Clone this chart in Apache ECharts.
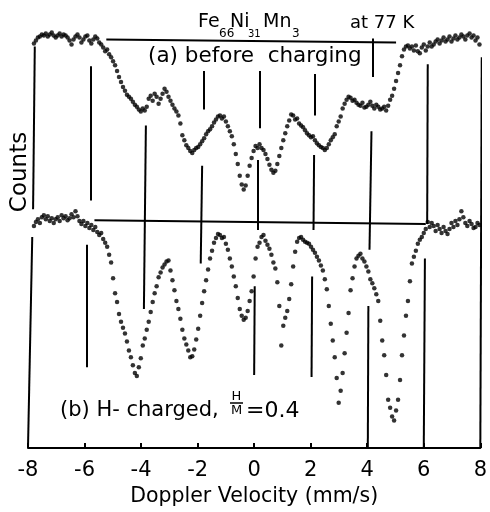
<!DOCTYPE html>
<html>
<head>
<meta charset="utf-8">
<script src="https://cdn.jsdelivr.net/npm/echarts@6/dist/echarts.min.js"></script>
<style>
  html, body { margin: 0; padding: 0; background: #fff; }
  #chart { width: 490px; height: 512px; }
</style>
</head>
<body>
<div id="chart"></div>
<script>
// Doppler velocity of each channel (mm/s)
var velocity = [
  -7.79,-7.72,-7.65,-7.58,-7.51,-7.44,-7.37,-7.30,-7.23,-7.16,
  -7.09,-7.02,-6.95,-6.88,-6.81,-6.74,-6.67,-6.60,-6.53,-6.46,
  -6.39,-6.32,-6.25,-6.18,-6.11,-6.04,-5.97,-5.90,-5.83,-5.76,
  -5.69,-5.62,-5.55,-5.48,-5.41,-5.34,-5.27,-5.20,-5.13,-5.06,
  -4.99,-4.92,-4.85,-4.78,-4.71,-4.64,-4.57,-4.50,-4.43,-4.36,
  -4.29,-4.22,-4.15,-4.08,-4.01,-3.94,-3.87,-3.80,-3.73,-3.66,
  -3.59,-3.52,-3.45,-3.38,-3.31,-3.24,-3.17,-3.10,-3.03,-2.96,
  -2.89,-2.82,-2.75,-2.68,-2.61,-2.54,-2.47,-2.40,-2.33,-2.26,
  -2.19,-2.12,-2.05,-1.98,-1.91,-1.84,-1.77,-1.70,-1.63,-1.56,
  -1.49,-1.42,-1.35,-1.28,-1.21,-1.14,-1.07,-1.00,-0.93,-0.86,
  -0.79,-0.72,-0.65,-0.58,-0.51,-0.44,-0.37,-0.30,-0.23,-0.16,
  -0.09,-0.02,0.05,0.12,0.19,0.26,0.33,0.40,0.47,0.54,
  0.61,0.68,0.75,0.82,0.89,0.96,1.03,1.10,1.17,1.24,
  1.31,1.38,1.45,1.52,1.59,1.66,1.73,1.80,1.87,1.94,
  2.01,2.08,2.15,2.22,2.29,2.36,2.43,2.50,2.57,2.64,
  2.71,2.78,2.85,2.92,2.99,3.06,3.13,3.20,3.27,3.34,
  3.41,3.48,3.55,3.62,3.69,3.76,3.83,3.90,3.97,4.04,
  4.11,4.18,4.25,4.32,4.39,4.46,4.53,4.60,4.67,4.74,
  4.81,4.88,4.95,5.02,5.09,5.16,5.23,5.30,5.37,5.44,
  5.51,5.58,5.65,5.72,5.79,5.86,5.93,6.00,6.07,6.14,
  6.21,6.28,6.35,6.42,6.49,6.56,6.63,6.70,6.77,6.84,
  6.91,6.98,7.05,7.12,7.19,7.26,7.33,7.40,7.47,7.54,
  7.62,7.69,7.76,7.83,7.90,7.97
];

// (a) before charging (counts, arbitrary offset)
var countsBefore = [
  410,413,416,417,419,418,420,417,419,421,
  418,416,418,420,417,419,418,416,413,409,
  414,417,419,416,411,414,417,418,413,410,
  414,417,415,411,409,406,402,404,399,396,
  392,388,382,376,371,366,362,358,356,354,
  351,348,346,343,341,344,342,346,354,357,
  352,359,356,349,354,359,364,361,356,352,
  348,344,341,337,329,317,312,307,304,301,
  299,302,304,305,308,311,314,318,321,323,
  326,330,333,336,337,334,336,331,326,321,
  316,308,298,288,276,267,262,266,276,286,
  294,301,306,304,308,304,302,298,293,287,
  282,279,281,288,296,304,312,319,326,332,
  338,337,333,334,329,327,325,322,319,317,
  315,316,312,309,307,305,304,302,304,308,
  312,315,318,326,331,336,344,349,353,356,
  355,352,353,350,348,347,350,345,346,348,
  351,347,344,348,346,343,344,346,342,347,
  353,357,364,372,380,388,397,404,407,408,
  405,407,403,408,402,400,406,409,403,407,
  411,407,409,412,414,410,413,416,412,414,
  417,412,415,418,414,416,419,417,414,418,
  420,416,418,413,416,409
];

// (b) H-charged, H/M = 0.4
var countsCharged = [
  225,229,232,228,234,236,232,235,230,233,
  228,232,234,230,236,233,235,231,233,237,
  234,240,235,230,227,230,225,228,223,226,
  221,224,219,216,218,212,208,204,196,188,
  172,157,148,136,128,122,116,108,99,92,
  84,76,73,82,91,104,111,120,128,138,
  148,157,164,173,178,183,186,189,190,180,
  170,160,149,141,131,120,111,105,99,92,
  93,100,110,121,134,147,159,170,181,192,
  200,208,213,217,216,213,214,207,201,192,
  184,174,164,152,141,134,130,132,139,149,
  159,174,192,204,208,214,216,210,206,202,
  196,188,182,168,144,104,124,132,139,151,
  166,184,199,209,213,214,211,209,208,207,
  204,201,198,194,190,185,180,171,161,144,
  126,109,92,71,46,58,76,96,117,137,
  160,172,184,192,195,197,192,189,184,179,
  171,167,162,156,149,129,109,94,74,49,
  41,32,28,38,49,69,94,114,134,149,
  169,187,194,200,207,211,214,218,222,229,
  224,228,225,220,226,222,218,224,220,217,
  222,228,224,230,226,232,240,234,228,225,
  230,227,223,224,228,226
];

// frame sides, line-position markers and the two baselines: [velocity, counts] end points
var guideSegments = [
  [[-7.76, 407], [-7.82, 242]],
  [[-7.85, 214], [-8.00, 0]],
  [[8.05, 396], [8.00, 0]],
  [[-5.79, 387], [-5.79, 251]],
  [[-5.92, 206], [-5.92, 82]],
  [[-3.83, 327], [-3.90, 141]],
  [[-1.80, 382], [-1.80, 343]],
  [[-1.84, 286], [-1.89, 187]],
  [[0.19, 382], [0.19, 324]],
  [[0.12, 292], [0.12, 221]],
  [[0.02, 164], [0.00, 74]],
  [[2.15, 379], [2.15, 337]],
  [[2.12, 297], [2.10, 221]],
  [[2.05, 174], [2.03, 72]],
  [[4.20, 415], [4.20, 376]],
  [[4.15, 321], [4.08, 201]],
  [[4.04, 144], [4.02, 0]],
  [[6.14, 389], [6.12, 227]],
  [[6.04, 192], [6.00, 0]],
  [[-5.23, 414], [5.02, 411]],
  [[-5.65, 231], [6.07, 227]]
];

var font = 'DejaVu Sans';

function pairs(xs, ys) {
  return xs.map(function (x, i) { return [x, ys[i]]; });
}

function label(x, y, text, size, extra) {
  var style = { text: text, font: size + 'px ' + font, fill: '#000', verticalAlign: 'middle' };
  var el = { type: 'text', x: x, y: y, style: style };
  if (extra) {
    if (extra.align) style.align = extra.align;
    if (extra.rotation) el.rotation = extra.rotation;
  }
  return el;
}

var chart = echarts.init(document.getElementById('chart'));

var option = {
  animation: false,
  backgroundColor: '#fff',
  grid: { left: 28, right: 5, top: 4, bottom: 58 },
  xAxis: {
    type: 'value',
    min: -8,
    max: 8,
    interval: 2,
    name: 'Doppler Velocity (mm/s)',
    nameLocation: 'middle',
    nameGap: 21,
    nameTextStyle: { color: '#000', fontSize: 20.5, fontFamily: font },
    axisLine: { lineStyle: { color: '#000', width: 2 } },
    axisTick: { inside: true, length: 5, lineStyle: { color: '#000', width: 2 } },
    axisLabel: { color: '#000', fontSize: 21, fontFamily: font, margin: 12 },
    splitLine: { show: false }
  },
  yAxis: {
    type: 'value',
    min: 0,
    max: 450,
    show: false
  },
  series: [
    {
      type: 'lines',
      coordinateSystem: 'cartesian2d',
      polyline: false,
      silent: true,
      lineStyle: { color: '#000', width: 2, opacity: 1 },
      data: guideSegments.map(function (s) { return { coords: s }; })
    },
    {
      name: 'before charging',
      type: 'scatter',
      symbol: 'circle',
      symbolSize: 4.5,
      clip: false,
      itemStyle: { color: '#000' },
      data: pairs(velocity, countsBefore)
    },
    {
      name: 'H-charged',
      type: 'scatter',
      symbol: 'circle',
      symbolSize: 4.5,
      clip: false,
      itemStyle: { color: '#000' },
      data: pairs(velocity, countsCharged)
    }
  ],
  graphic: [
    label(198, 22, 'Fe', 19),
    label(219, 34, '66', 12),
    label(230, 22, 'Ni', 19),
    label(248, 34, '31', 10),
    label(263, 22, 'Mn', 19),
    label(292, 34, '3', 12),
    label(350, 23, 'at 77 K', 18),
    label(148, 56, '(a) before  charging', 21.5),
    label(20, 172, 'Counts', 23, { align: 'center', rotation: Math.PI / 2 }),
    label(60, 411, '(b) H- charged,', 21),
    label(236.5, 397, 'H', 13, { align: 'center' }),
    { type: 'line', shape: { x1: 230, y1: 403, x2: 243, y2: 403 }, style: { stroke: '#000', lineWidth: 1.5 } },
    label(236.5, 411, 'M', 13, { align: 'center' }),
    label(246, 411, '=0.4', 22)
  ]
};

chart.setOption(option);
</script>
</body>
</html>
